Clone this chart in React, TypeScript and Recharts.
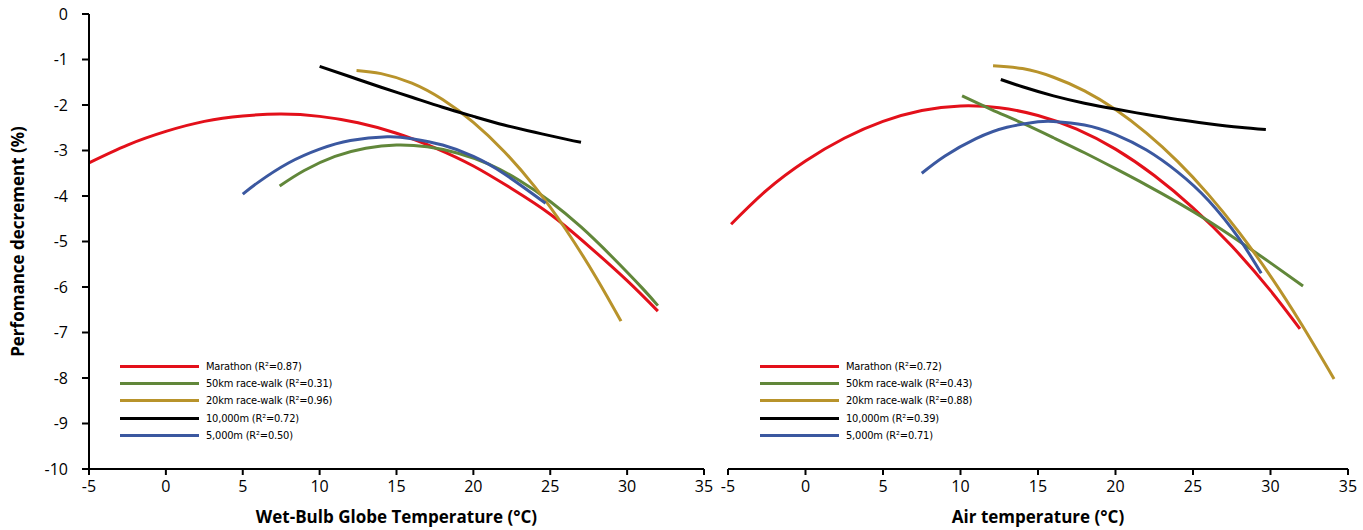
import React from 'react';
import { LineChart, Line, XAxis, YAxis } from 'recharts';

// x ticks and y ticks shared by both panels
const xTicks = [-5, 0, 5, 10, 15, 20, 25, 30, 35];
const yTicks = [0, -1, -2, -3, -4, -5, -6, -7, -8, -9, -10];

// Wet-bulb globe temperature panel
const wbgtMarathon = [
  { x: -5, y: -3.27 }, { x: -2.5, y: -2.88 }, { x: 0, y: -2.58 }, { x: 2.5, y: -2.36 },
  { x: 5, y: -2.24 }, { x: 7.5, y: -2.2 }, { x: 10, y: -2.25 }, { x: 12.5, y: -2.39 },
  { x: 15, y: -2.62 }, { x: 17.5, y: -2.94 }, { x: 20, y: -3.34 }, { x: 22.5, y: -3.84 },
  { x: 25, y: -4.4 }, { x: 27.5, y: -5.1 }, { x: 30, y: -5.86 }, { x: 32, y: -6.53 },
];
const wbgtWalk50 = [
  { x: 7.4, y: -3.78 }, { x: 9, y: -3.44 }, { x: 11, y: -3.13 }, { x: 13, y: -2.95 },
  { x: 15, y: -2.88 }, { x: 17, y: -2.92 }, { x: 19, y: -3.06 }, { x: 21, y: -3.3 },
  { x: 23, y: -3.66 }, { x: 25, y: -4.12 }, { x: 27, y: -4.68 }, { x: 29, y: -5.33 },
  { x: 31, y: -6.03 }, { x: 32, y: -6.41 },
];
const wbgtWalk20 = [
  { x: 12.4, y: -1.24 }, { x: 14, y: -1.31 }, { x: 16, y: -1.52 }, { x: 18, y: -1.88 },
  { x: 20, y: -2.38 }, { x: 22, y: -3.02 }, { x: 24, y: -3.8 }, { x: 26, y: -4.73 },
  { x: 28, y: -5.8 }, { x: 29.6, y: -6.75 },
];
const wbgt10000 = [
  { x: 10, y: -1.15 }, { x: 12, y: -1.38 }, { x: 14, y: -1.61 }, { x: 16, y: -1.83 },
  { x: 18, y: -2.05 }, { x: 20, y: -2.25 }, { x: 22, y: -2.44 }, { x: 24, y: -2.6 },
  { x: 26, y: -2.75 }, { x: 27, y: -2.82 },
];
const wbgt5000 = [
  { x: 5, y: -3.96 }, { x: 6, y: -3.7 }, { x: 8, y: -3.27 }, { x: 10, y: -2.97 },
  { x: 12, y: -2.78 }, { x: 14.4, y: -2.7 }, { x: 16, y: -2.74 }, { x: 18, y: -2.88 },
  { x: 20, y: -3.13 }, { x: 22, y: -3.51 }, { x: 24.7, y: -4.16 },
];

// Air temperature panel
const airMarathon = [
  { x: -4.8, y: -4.62 }, { x: -2.5, y: -3.87 }, { x: 0, y: -3.23 }, { x: 2.5, y: -2.73 },
  { x: 5, y: -2.36 }, { x: 7.5, y: -2.12 }, { x: 10, y: -2.02 }, { x: 12.5, y: -2.06 },
  { x: 15, y: -2.23 }, { x: 17.5, y: -2.53 }, { x: 20, y: -2.97 }, { x: 22.5, y: -3.55 },
  { x: 25, y: -4.26 }, { x: 27.5, y: -5.1 }, { x: 30, y: -6.08 }, { x: 31.9, y: -6.92 },
];
const airWalk50 = [
  { x: 10.1, y: -1.8 }, { x: 12, y: -2.1 }, { x: 14, y: -2.4 }, { x: 16, y: -2.72 },
  { x: 18, y: -3.05 }, { x: 20, y: -3.4 }, { x: 22, y: -3.76 }, { x: 24, y: -4.14 },
  { x: 26, y: -4.55 }, { x: 28, y: -5.0 }, { x: 30, y: -5.47 }, { x: 32.1, y: -5.98 },
];
const airWalk20 = [
  { x: 12.1, y: -1.14 }, { x: 14, y: -1.2 }, { x: 16, y: -1.39 }, { x: 18, y: -1.69 },
  { x: 20, y: -2.1 }, { x: 22, y: -2.62 }, { x: 24, y: -3.24 }, { x: 26, y: -3.97 },
  { x: 28, y: -4.81 }, { x: 30, y: -5.76 }, { x: 32, y: -6.82 }, { x: 34.1, y: -8.02 },
];
const air10000 = [
  { x: 12.6, y: -1.44 }, { x: 14, y: -1.6 }, { x: 16, y: -1.8 }, { x: 18, y: -1.96 },
  { x: 20, y: -2.09 }, { x: 22, y: -2.21 }, { x: 24, y: -2.32 }, { x: 26, y: -2.41 },
  { x: 28, y: -2.49 }, { x: 29.7, y: -2.54 },
];
const air5000 = [
  { x: 7.5, y: -3.5 }, { x: 9, y: -3.12 }, { x: 11, y: -2.74 }, { x: 13, y: -2.49 },
  { x: 15, y: -2.37 }, { x: 16, y: -2.36 }, { x: 18, y: -2.44 }, { x: 20, y: -2.65 },
  { x: 22, y: -2.99 }, { x: 24, y: -3.47 }, { x: 26, y: -4.1 }, { x: 28, y: -4.95 },
  { x: 29.4, y: -5.7 },
];

const eventNames = ['Marathon', '50km race-walk', '20km race-walk', '10,000m', '5,000m'];
const eventColors = ['#e3101a', '#61873a', '#b8932b', '#000000', '#3b58a0'];
const wbgtR2 = ['0.87', '0.31', '0.96', '0.72', '0.50'];
const airR2 = ['0.72', '0.43', '0.88', '0.39', '0.71'];

const FONT = "'Open Sans', 'Noto Sans', sans-serif";
const LEGEND_FONT = "'Liberation Sans Narrow', 'DejaVu Sans Condensed', 'Liberation Sans', sans-serif";

const axisStyle = { stroke: '#000', strokeWidth: 2 };
const tickStyle = { fill: '#000', fontSize: 16, fontFamily: FONT };

function SeriesKey({ r2, left }: { r2: string[]; left: number }) {
  return (
    <div style={{ position: 'absolute', left, top: 358, fontFamily: LEGEND_FONT, fontSize: 11, letterSpacing: -0.2, color: '#000' }}>
      {eventNames.map((name, i) => (
        <div key={name} style={{ display: 'flex', alignItems: 'center', height: 17.2, whiteSpace: 'nowrap' }}>
          <span style={{ display: 'inline-block', width: 79, height: 3, background: eventColors[i], marginRight: 7 }} />
          <span>{name} (R²={r2[i]})</span>
        </div>
      ))}
    </div>
  );
}

function Panel({ series, title, showY }: { series: any[][]; title: string; showY: boolean }) {
  const margin = showY
    ? { top: 14, right: 21, left: 29, bottom: 3 }
    : { top: 14, right: 15, left: 13, bottom: 3 };
  return (
    <LineChart width={showY ? 725 : 648} height={530} margin={margin}>
      <XAxis
        type="number"
        dataKey="x"
        domain={[-5, 35]}
        ticks={xTicks}
        interval={0}
        axisLine={axisStyle}
        tickLine={axisStyle}
        tickSize={6}
        tickMargin={6}
        tick={tickStyle}
        height={58}
        label={{ value: title, position: 'insideBottom', offset: 4, fill: '#000', fontSize: 17, fontWeight: 700, fontFamily: FONT }}
      />
      {showY ? (
        <YAxis
          type="number"
          domain={[-10, 0]}
          ticks={yTicks}
          interval={0}
          width={60}
          axisLine={axisStyle}
          tickLine={axisStyle}
          tickSize={7}
          tickMargin={14}
          tick={tickStyle}
          label={{
            value: 'Perfomance decrement (%)',
            angle: -90,
            position: 'insideLeft',
            offset: -11,
            style: { textAnchor: 'middle' },
            fill: '#000',
            fontSize: 17,
            fontWeight: 700,
            fontFamily: FONT,
          }}
        />
      ) : (
        <YAxis type="number" domain={[-10, 0]} hide />
      )}
      {series.map((d, i) => (
        <Line
          key={eventNames[i]}
          data={d}
          dataKey="y"
          name={eventNames[i]}
          type="natural"
          stroke={eventColors[i]}
          strokeWidth={3}
          dot={false}
          activeDot={false}
          isAnimationActive={false}
        />
      ))}
    </LineChart>
  );
}

export default function App() {
  return (
    <div style={{ position: 'absolute', left: 0, top: 0, width: 1363, height: 530, background: '#fff' }}>
      <div style={{ position: 'absolute', left: 0, top: 0 }}>
        <Panel
          series={[wbgtMarathon, wbgtWalk50, wbgtWalk20, wbgt10000, wbgt5000]}
          title="Wet-Bulb Globe Temperature (°C)"
          showY
        />
      </div>
      <div style={{ position: 'absolute', left: 715, top: 0 }}>
        <Panel
          series={[airMarathon, airWalk50, airWalk20, air10000, air5000]}
          title="Air temperature (°C)"
          showY={false}
        />
      </div>
      <SeriesKey r2={wbgtR2} left={120} />
      <SeriesKey r2={airR2} left={760} />
    </div>
  );
}
